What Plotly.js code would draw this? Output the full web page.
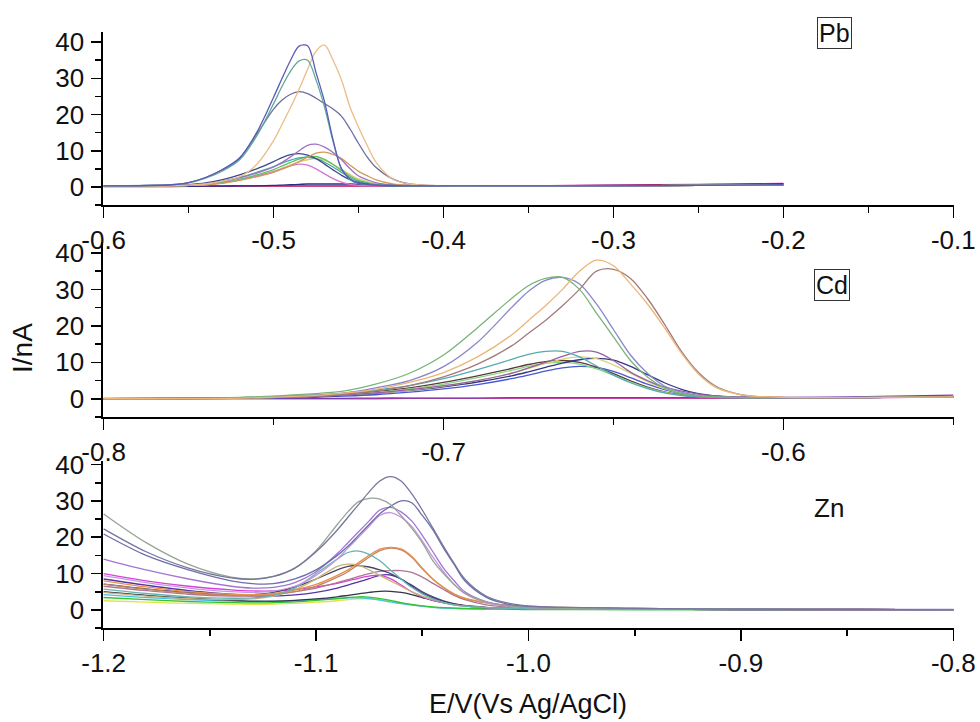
<!DOCTYPE html>
<html>
<head>
<meta charset="utf-8">
<script src="https://cdn.plot.ly/plotly-3.0.1.min.js"></script>
<style>html,body{margin:0;padding:0;background:#fff;}#chart{width:980px;height:722px;}</style>
</head>
<body>
<div id="chart"></div>
<script>
// ---------- Pb panel ----------
const pbE = [-0.60, -0.56, -0.55, -0.54, -0.53, -0.52, -0.51, -0.50, -0.495, -0.49, -0.485, -0.48, -0.475, -0.47, -0.465, -0.46, -0.455, -0.45, -0.445, -0.44, -0.43, -0.42, -0.40, -0.35, -0.30, -0.25, -0.20];
const pbA = [0.3, 0.6, 1.2, 2.6, 4.8, 8, 15, 24.8, 30, 35, 38.9, 39, 31.5, 23.5, 13, 4.9, 2.2, 1, 0.7, 0.5, 0.4, 0.3, 0.3, 0.3, 0.3, 0.4, 0.6];
const pbB = [0.3, 0.6, 1.1, 2.4, 4.4, 7.5, 14, 23, 27.8, 32, 34.8, 35, 29.5, 22, 12.5, 5, 2, 0.9, 0.6, 0.5, 0.4, 0.3, 0.3, 0.3, 0.3, 0.4, 0.6];
const pbC = [0.2, 0.3, 0.5, 0.8, 1.6, 2.8, 6.2, 12.8, 17.3, 22, 27, 32.5, 37.5, 39.2, 35, 29.5, 22, 16.5, 11.5, 7, 2.2, 0.8, 0.3, 0.3, 0.3, 0.4, 0.6];
const pbD = [0.3, 0.6, 1.2, 2.6, 4.8, 8, 14.5, 21.5, 24, 25.6, 26.3, 25.8, 24.5, 23, 21.5, 19.5, 16, 12, 8.3, 5.5, 2.2, 0.8, 0.3, 0.3, 0.3, 0.4, 0.6];
const pbF1 = [0.2, 0.3, 0.5, 0.9, 1.5, 2.5, 3.8, 5.5, 6.8, 8.3, 10, 11.5, 11.8, 11, 9.5, 7.5, 5, 3, 2, 1.2, 0.5, 0.3, 0.3, 0.3, 0.3, 0.4, 0.6];
const pbF2 = [0.2, 0.2, 0.4, 0.6, 1.0, 1.8, 2.8, 4.0, 4.9, 5.9, 7.0, 8.2, 9.3, 9.6, 9.0, 7.8, 6, 4.3, 3.1, 2, 0.8, 0.4, 0.3, 0.3, 0.3, 0.4, 0.6];
const pbF3 = [0.2, 0.3, 0.6, 1.1, 2, 3.3, 5, 7, 8.1, 8.9, 9.2, 8.8, 7.8, 6.3, 4.7, 3.2, 2, 1.2, 0.8, 0.5, 0.3, 0.3, 0.3, 0.3, 0.3, 0.4, 0.6];
const pbF4 = [0.2, 0.3, 0.5, 0.9, 1.6, 2.6, 4, 5.6, 6.6, 7.4, 8.0, 8.2, 7.8, 6.8, 5.5, 4, 2.6, 1.5, 1, 0.6, 0.3, 0.3, 0.3, 0.3, 0.3, 0.4, 0.6];
const pbF5 = [0.2, 0.2, 0.4, 0.7, 1.2, 2.1, 3.3, 4.8, 5.8, 6.8, 7.7, 8.3, 8.4, 7.6, 6.2, 4.5, 3, 1.8, 1.2, 0.7, 0.3, 0.3, 0.3, 0.3, 0.3, 0.4, 0.6];
const pbF6 = [0.2, 0.2, 0.4, 0.7, 1.2, 2, 3, 4.2, 5, 5.8, 6.3, 6, 5, 3.6, 2.3, 1.3, 0.7, 0.4, 0.3, 0.3, 0.3, 0.3, 0.3, 0.3, 0.3, 0.4, 0.6];
const pbF7 = [0.2, 0.2, 0.4, 0.6, 1.1, 1.9, 3, 4.3, 5.2, 6.1, 6.9, 7.5, 7.8, 7.3, 6.2, 4.8, 3.4, 2.2, 1.5, 0.9, 0.4, 0.3, 0.3, 0.3, 0.3, 0.4, 0.6];
const pbL1 = [0.2, 0.2, 0.2, 0.2, 0.2, 0.2, 0.2, 0.2, 0.2, 0.2, 0.2, 0.2, 0.2, 0.2, 0.2, 0.2, 0.2, 0.2, 0.2, 0.2, 0.2, 0.2, 0.3, 0.3, 0.5, 0.7, 1.0];
const pbL2 = [0.3, 0.3, 0.3, 0.3, 0.3, 0.3, 0.3, 0.3, 0.3, 0.3, 0.3, 0.3, 0.3, 0.3, 0.3, 0.3, 0.3, 0.3, 0.3, 0.3, 0.3, 0.3, 0.3, 0.3, 0.4, 0.6, 0.9];
const pbL3 = [0.1, 0.1, 0.15, 0.2, 0.2, 0.3, 0.3, 0.4, 0.5, 0.6, 0.7, 0.8, 0.8, 0.8, 0.8, 0.8, 0.8, 0.7, 0.65, 0.6, 0.5, 0.4, 0.3, 0.3, 0.4, 0.5, 0.8];

// ---------- Cd panel ----------
const cdE = [-0.80, -0.76, -0.74, -0.73, -0.72, -0.71, -0.70, -0.69, -0.68, -0.675, -0.67, -0.665, -0.66, -0.655, -0.65, -0.645, -0.64, -0.635, -0.63, -0.625, -0.62, -0.615, -0.61, -0.60, -0.58, -0.55];
const cd1 = [0, 0.2, 0.8, 1.5, 2.6, 4.5, 7.2, 11.5, 17.5, 21.5, 25.5, 30, 35, 38, 36.5, 31.5, 26, 19.5, 12.5, 6.8, 3.2, 1.6, 0.8, 0.4, 0.3, 0.5];
const cd2 = [0, 0.2, 0.6, 1.2, 2.1, 3.6, 6, 9.5, 14.5, 18, 21.5, 25.5, 30, 35, 35.5, 33, 27.5, 20.5, 13, 7.2, 3.5, 1.7, 0.8, 0.4, 0.3, 0.5];
const cd3 = [0, 0.4, 1.3, 2.0, 4, 7, 12, 19.5, 27.5, 31, 33, 33.3, 30, 23.5, 17, 10.5, 6, 3, 1.5, 0.8, 0.5, 0.4, 0.3, 0.3, 0.3, 0.5];
const cd4 = [0, 0.3, 0.9, 1.5, 3, 5, 8.8, 15.5, 25, 29.5, 32.5, 33.3, 31.5, 26, 19, 12, 7, 3.5, 1.8, 0.9, 0.5, 0.4, 0.3, 0.3, 0.3, 0.5];
const cd5 = [0, 0.3, 1, 1.5, 2.4, 3.6, 5.5, 8, 10.8, 12.2, 13, 13, 11.5, 9, 6.5, 4.4, 2.8, 1.6, 0.9, 0.5, 0.4, 0.3, 0.3, 0.3, 0.3, 0.5];
const cd6 = [0, 0.2, 0.6, 1, 1.6, 2.5, 3.6, 5, 7, 8.5, 10, 11.6, 13, 12.8, 10.5, 7.3, 5, 3.2, 2.1, 1.3, 0.8, 0.5, 0.4, 0.3, 0.3, 0.5];
const cd7 = [0, 0.2, 0.6, 1, 1.6, 2.4, 3.5, 5, 7, 8.3, 9.7, 10.9, 11.5, 11, 9.3, 7, 4.7, 2.8, 1.5, 0.8, 0.5, 0.4, 0.3, 0.3, 0.3, 0.5];
const cd8 = [0, 0.2, 0.5, 0.9, 1.5, 2.3, 3.3, 4.6, 6.3, 7.4, 8.6, 9.8, 10.7, 11.1, 10.6, 8.9, 6.6, 4.4, 2.6, 1.4, 0.8, 0.5, 0.4, 0.3, 0.3, 0.5];
const cd9 = [0, 0.2, 0.6, 1, 1.7, 2.7, 4, 5.8, 7.8, 8.9, 9.7, 10, 9.5, 8.2, 6.5, 4.6, 3, 1.8, 1, 0.6, 0.4, 0.3, 0.3, 0.3, 0.3, 0.5];
const cd10 = [0, 0.2, 0.7, 1.2, 2, 3, 4.5, 6.3, 8.3, 9.4, 10.2, 10.5, 10, 8.7, 6.9, 4.9, 3.2, 1.9, 1.1, 0.6, 0.4, 0.3, 0.3, 0.3, 0.3, 0.5];
const cd11 = [0, 0.1, 0.4, 0.7, 1.1, 1.8, 2.7, 3.9, 5.5, 6.5, 7.6, 8.5, 8.9, 8.6, 7.5, 5.8, 4, 2.5, 1.4, 0.8, 0.5, 0.4, 0.3, 0.3, 0.3, 0.5];
const cd12 = [0, 0, 0, 0, 0, 0.1, 0.1, 0.1, 0.1, 0.1, 0.1, 0.1, 0.1, 0.1, 0.1, 0.1, 0.1, 0.1, 0.1, 0.1, 0.1, 0.1, 0.1, 0.1, 0.2, 0.5];
const cd13 = [0.1, 0.1, 0.1, 0.1, 0.2, 0.2, 0.2, 0.2, 0.3, 0.3, 0.3, 0.3, 0.3, 0.3, 0.3, 0.3, 0.3, 0.3, 0.3, 0.3, 0.3, 0.3, 0.3, 0.4, 0.5, 1.0];

// ---------- Zn panel ----------
const znE = [-1.20, -1.18, -1.16, -1.14, -1.13, -1.12, -1.11, -1.10, -1.09, -1.085, -1.08, -1.075, -1.07, -1.065, -1.06, -1.055, -1.05, -1.045, -1.04, -1.035, -1.03, -1.02, -1.01, -1.00, -0.95, -0.90, -0.85, -0.80];
const zn1 = [22.3, 16, 11.5, 8.8, 8.4, 9.2, 11.5, 16, 22, 25.5, 29, 32.5, 35.5, 36.7, 35.5, 32, 27.5, 22.5, 17.5, 12.8, 8.5, 3.8, 1.9, 1.1, 0.4, 0.2, 0.1, 0];
const zn2 = [26.4, 18.5, 12.5, 9, 8.5, 9.2, 11.5, 16.3, 23.5, 27, 29.8, 30.7, 30.5, 29, 26, 22.5, 18.5, 13.5, 10, 7, 4.6, 2.2, 1.1, 0.6, 0.3, 0.2, 0.1, 0];
const zn3 = [20.9, 15, 11, 8, 7.2, 7.2, 8.5, 11, 15, 17.5, 20.5, 23.5, 26.5, 28.5, 30, 29.5, 26, 22, 17, 12.5, 8, 3.5, 1.6, 0.9, 0.4, 0.2, 0.1, 0];
const zn4 = [14, 11, 8.5, 6.5, 6, 6.2, 7.5, 10.5, 15.5, 18.5, 21.5, 24.5, 27.5, 28.2, 27, 24.5, 20.5, 16, 11.5, 8, 5, 2.3, 1.2, 0.7, 0.3, 0.2, 0.1, 0.1];
const zn5 = [9.4, 7.5, 6, 5, 4.8, 5.2, 6.5, 9.5, 14, 17, 20, 23, 26, 26.8, 25.5, 23, 19, 14.5, 10.5, 7, 4.5, 2, 1, 0.6, 0.3, 0.2, 0.1, 0];
const zn6 = [5.7, 4.5, 3.6, 3.2, 3.3, 4, 6, 10, 14, 15.8, 16.2, 15.3, 13.5, 11, 8.5, 6.2, 4.4, 3, 2, 1.4, 1, 0.6, 0.4, 0.3, 0.2, 0.1, 0.1, 0];
const zn7 = [8, 6.3, 5, 4.3, 4.2, 4.5, 5.5, 7, 9.5, 11, 13, 15, 16.7, 17.2, 16.8, 14.8, 11.5, 8.5, 6.2, 4.4, 3.2, 2, 1.3, 0.9, 0.4, 0.2, 0.1, 0];
const zn8 = [7.1, 5.7, 4.6, 4, 3.9, 4.2, 5, 6.5, 9, 10.5, 12.5, 14.5, 16.3, 17, 16.5, 14.5, 11.3, 8.4, 6.1, 4.3, 3.1, 1.9, 1.2, 0.8, 0.4, 0.2, 0.1, 0];
const zn9 = [4.8, 3.8, 3.1, 2.8, 3, 3.8, 5.5, 8.5, 12, 12.6, 12.3, 11, 9.5, 8, 6.5, 5, 3.8, 2.8, 2, 1.4, 1, 0.6, 0.4, 0.3, 0.2, 0.1, 0.1, 0];
const zn10 = [7.1, 5.8, 4.8, 4.2, 4.2, 4.8, 6.3, 8.5, 11, 12, 12.2, 11.8, 11, 10, 8.5, 6.8, 5, 3.6, 2.5, 1.7, 1.2, 0.7, 0.4, 0.3, 0.2, 0.1, 0.1, 0];
const zn11 = [6.5, 5.3, 4.3, 3.8, 3.8, 4.2, 5, 6, 7.5, 8.3, 9.2, 10, 10.6, 10.8, 10.8, 10.3, 9, 7.3, 5.6, 4, 2.8, 1.4, 0.8, 0.5, 0.2, 0.1, 0.1, 0];
const zn12 = [10, 8, 6.5, 5.5, 5.2, 5.2, 5.6, 6.3, 7.3, 8, 8.7, 9.3, 9.5, 8.6, 6.8, 5, 3.6, 2.6, 1.9, 1.4, 1, 0.6, 0.4, 0.3, 0.2, 0.1, 0.1, 0];
const zn13 = [8.5, 6.8, 5.3, 4.3, 3.9, 3.8, 4.1, 4.8, 6, 6.8, 7.7, 8.6, 9.5, 9.6, 8.5, 6.5, 4.7, 3.3, 2.3, 1.6, 1.1, 0.6, 0.4, 0.3, 0.2, 0.1, 0.1, 0];
const zn14 = [5, 4, 3.2, 2.6, 2.4, 2.4, 2.6, 3, 3.6, 4, 4.4, 4.8, 5.1, 5.1, 4.8, 4.2, 3.4, 2.6, 2, 1.5, 1.1, 0.6, 0.4, 0.3, 0.2, 0.1, 0.1, 0];
const zn15 = [3.4, 2.8, 2.3, 2, 1.9, 2, 2.2, 2.6, 3.1, 3.4, 3.6, 3.5, 3.1, 2.6, 2, 1.5, 1.1, 0.8, 0.6, 0.5, 0.4, 0.3, 0.2, 0.2, 0.1, 0.1, 0, 0];
const zn16 = [2.5, 2.1, 1.8, 1.6, 1.5, 1.6, 1.8, 2.1, 2.5, 2.8, 3, 3, 2.8, 2.4, 1.9, 1.4, 1, 0.7, 0.5, 0.4, 0.3, 0.2, 0.2, 0.1, 0.1, 0, 0, 0];
const zn17 = [4.2, 3.4, 2.8, 2.4, 2.3, 2.3, 2.5, 2.8, 3.1, 3.3, 3.3, 3.1, 2.7, 2.2, 1.7, 1.3, 1, 0.7, 0.5, 0.4, 0.3, 0.2, 0.2, 0.1, 0.1, 0, 0, 0];

// ---------- tick labels ----------
const pbTickVals = [-0.6, -0.5, -0.4, -0.3, -0.2, -0.1];
const pbTickText = ['-0.6', '-0.5', '-0.4', '-0.3', '-0.2', '-0.1'];
const pbMinor = [-0.55, -0.45, -0.35, -0.25, -0.15];
const cdTickVals = [-0.8, -0.7, -0.6];
const cdTickText = ['-0.8', '-0.7', '-0.6'];
const cdMinor = [-0.75, -0.65, -0.55];
const znTickVals = [-1.2, -1.1, -1.0, -0.9, -0.8];
const znTickText = ['-1.2', '-1.1', '-1.0', '-0.9', '-0.8'];
const znMinor = [-1.15, -1.05, -0.95, -0.85];
const yTickVals = [0, 10, 20, 30, 40];

// ---------- styles ----------
const pbSeries = [pbL1, pbL2, pbL3, pbF7, pbF6, pbF5, pbF4, pbF3, pbF2, pbF1, pbD, pbC, pbB, pbA];
const pbColors = ['#d21aa8', '#c23a3a', '#2a2a8a', '#d8cf6a', '#d676d6', '#62c062', '#46a6a6', '#3e4a8e', '#cf9a5e', '#9e72c2', '#6c6e9e', '#ebbc86', '#62a89c', '#5a5ab8'];
const cdSeries = [cd12, cd13, cd11, cd10, cd9, cd8, cd7, cd6, cd5, cd4, cd3, cd2, cd1];
const cdColors = ['#e040a8', '#7a3aa8', '#4a56d2', '#5a3a3a', '#88d488', '#343488', '#dcd478', '#9462a4', '#56aab4', '#8a86cc', '#78b478', '#a27a7a', '#ebb676'];
const znSeries = [zn16, zn17, zn15, zn14, zn13, zn12, zn11, zn10, zn9, zn8, zn7, zn6, zn5, zn4, zn3, zn2, zn1];
const znColors = ['#e2e24a', '#46c2e2', '#34c234', '#34344a', '#5634a4', '#d444d4', '#b27494', '#46466a', '#c8b47a', '#c48462', '#e4924e', '#64b4b4', '#c496e4', '#a474d4', '#6e6eaa', '#96a494', '#76769e'];

const traces = [];
function add(xs, series, colors, xa, ya) {
  series.forEach((ys, i) => {
    traces.push({
      x: xs, y: ys, type: 'scatter', mode: 'lines',
      line: {color: colors[i], width: 1.3, shape: 'spline', smoothing: 0.9},
      xaxis: xa, yaxis: ya, hoverinfo: 'skip', showlegend: false
    });
  });
}
add(pbE, pbSeries, pbColors, 'x', 'y');
add(cdE, cdSeries, cdColors, 'x2', 'y2');
add(znE, znSeries, znColors, 'x3', 'y3');

const FONT = 'Liberation Sans, Arial, Helvetica, sans-serif';
const xDom = [103 / 980, 954 / 980];
function xAxis(anchor, range, vals, text, minorVals) {
  return {
    domain: xDom, anchor: anchor, range: range,
    tickmode: 'array', tickvals: vals, ticktext: text,
    showline: true, linecolor: '#000', linewidth: 1.6,
    ticks: 'outside', ticklen: 11, tickwidth: 1.6, tickcolor: '#000',
    minor: {tickmode: 'array', tickvals: minorVals, ticks: 'outside', ticklen: 6, tickwidth: 1.6, tickcolor: '#000', showgrid: false},
    showgrid: false, zeroline: false,
    tickfont: {family: FONT, size: 26, color: '#111'}
  };
}
function yAxis(anchor, dom, range) {
  return {
    domain: dom, anchor: anchor, range: range,
    tickmode: 'array', tickvals: yTickVals,
    showline: true, linecolor: '#000', linewidth: 1.6,
    ticks: 'outside', ticklen: 10, tickwidth: 1.6, tickcolor: '#000',
    minor: {dtick: 5, tick0: 0, ticks: 'outside', ticklen: 6, tickwidth: 1.6, tickcolor: '#000', showgrid: false},
    showgrid: false, zeroline: false, ticklabelstandoff: 2,
    tickfont: {family: FONT, size: 26, color: '#111'}
  };
}
function label(text, px, py, size, extra) {
  return Object.assign({text: text, xref: 'paper', yref: 'paper', x: px / 980, y: 1 - py / 722,
    xanchor: 'center', yanchor: 'middle', showarrow: false,
    font: {family: FONT, size: size, color: '#111'}}, extra || {});
}
const boxed = {bordercolor: '#333', borderwidth: 1, borderpad: 1, bgcolor: '#fff'};

const layout = {
  width: 980, height: 722,
  margin: {l: 0, r: 0, t: 0, b: 0},
  paper_bgcolor: '#fff', plot_bgcolor: '#fff',
  showlegend: false,
  font: {family: FONT, color: '#111'},
  xaxis: xAxis('y', [-0.6004, -0.0996], pbTickVals, pbTickText, pbMinor),
  yaxis: yAxis('x', [1 - 205 / 722, 1 - 32 / 722], [-5, 42.8]),
  xaxis2: xAxis('y2', [-0.8002, -0.5498], cdTickVals, cdTickText, cdMinor),
  yaxis2: yAxis('x2', [1 - 417 / 722, 1 - 242 / 722], [-5, 43]),
  xaxis3: xAxis('y3', [-1.2003, -0.7997], znTickVals, znTickText, znMinor),
  yaxis3: yAxis('x3', [1 - 628 / 722, 1 - 461 / 722], [-5, 41]),
  annotations: [
    label('Pb', 834, 33, 25, boxed),
    label('Cd', 832, 285, 25, boxed),
    label('Zn', 829, 508, 26),
    label('E/V(Vs Ag/AgCl)', 528, 704, 27),
    label('I/nA', 22, 348, 28, {textangle: -90})
  ]
};

Plotly.newPlot('chart', traces, layout, {staticPlot: true, displayModeBar: false});
</script>
</body>
</html>
